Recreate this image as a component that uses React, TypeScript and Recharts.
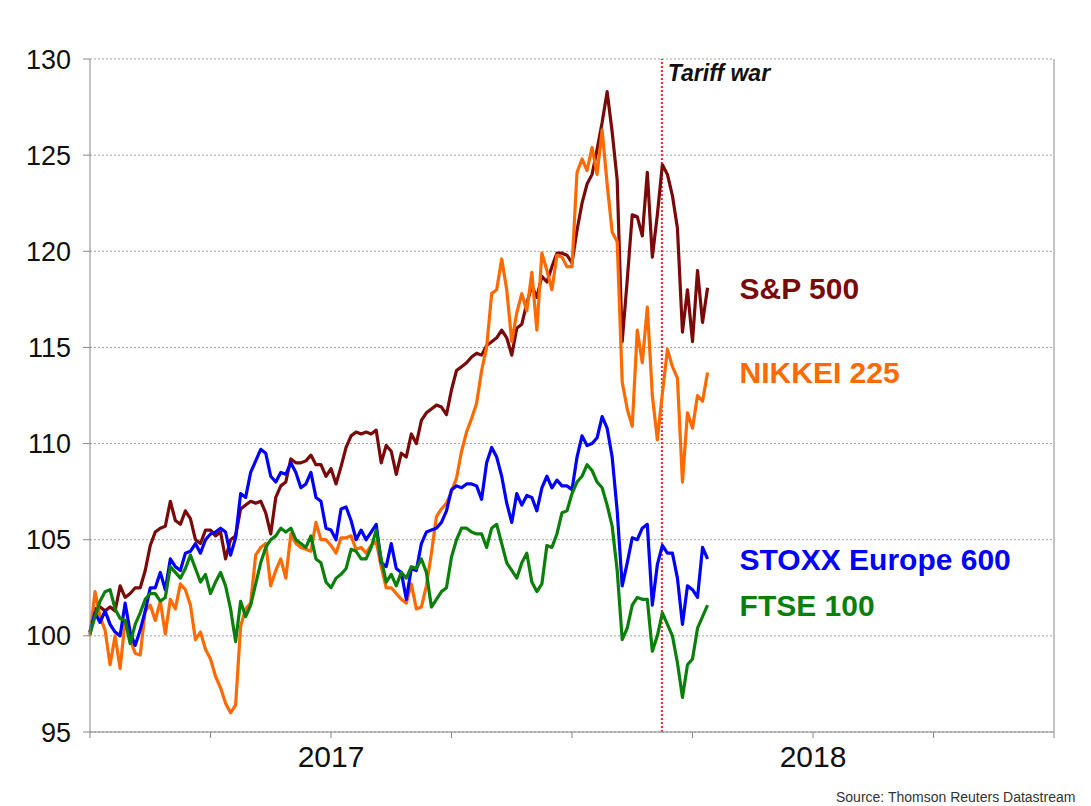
import { LineChart, Line, XAxis, YAxis, CartesianGrid, ReferenceLine, LabelList } from 'recharts';

// Rebased index levels (start = 100), roughly one point every few trading days.
const spx = [
  100.2, 101.4, 101.5, 101.3, 101.5, 101.3, 102.6, 102.0, 102.2, 102.5,
  102.5, 103.4, 104.7, 105.4, 105.6, 105.7, 107.0, 106.0, 105.8, 106.5,
  106.1, 105.0, 104.8, 105.5, 105.5, 105.2, 105.4, 104.0, 105.0, 105.2,
  106.6, 106.8, 107.0, 106.9, 107.0, 106.4, 105.3, 107.2, 107.8, 108.0,
  109.2, 109.0, 109.0, 109.1, 109.4, 108.9, 108.9, 108.3, 108.7, 107.9,
  108.8, 109.8, 110.4, 110.6, 110.5, 110.6, 110.5, 110.7, 109.0, 109.9,
  109.6, 108.4, 109.5, 109.3, 110.5, 110.0, 111.2, 111.6, 111.8, 112.0,
  111.9, 111.5, 112.8, 113.8, 114.0, 114.2, 114.5, 114.7, 114.6, 115.1,
  115.3, 115.5, 115.9, 115.5, 114.6, 116.0, 116.2, 117.3, 118.2, 117.6,
  118.7, 118.4, 119.2, 119.9, 119.9, 119.8, 119.4, 121.1, 122.5, 123.5,
  124.0, 125.3, 126.7, 128.3, 126.2, 123.7, 115.3, 118.5, 121.9, 121.8,
  120.8, 124.1, 119.7, 121.9, 124.5, 124.0, 122.9, 121.2, 115.8, 118.0,
  115.3, 119.0, 116.3, 118.1,
];

const nikkei = [
  100.0, 102.3, 101.0, 100.3, 98.5, 100.0, 98.3, 100.8, 99.8, 99.1,
  99.0, 101.3, 101.6, 100.8, 101.8, 100.1, 101.9, 101.4, 102.7, 102.4,
  101.6, 99.8, 100.2, 99.3, 98.8, 97.9, 97.3, 96.5, 96.0, 96.4,
  100.5, 101.4, 101.7, 104.2, 104.6, 104.8, 102.6, 103.4, 104.0, 103.0,
  105.3, 104.8, 104.6, 104.5, 104.4, 105.9, 105.0, 105.0, 104.7, 104.3,
  105.1, 105.1, 105.2, 104.5, 104.6, 104.3, 104.7, 104.9, 103.6, 102.5,
  102.5, 102.2, 101.9, 101.7, 102.7, 101.4, 101.5, 102.6, 104.3, 106.2,
  106.6, 106.9, 107.5, 108.2, 109.6, 110.6, 111.3, 112.1, 113.8, 115.0,
  117.8, 118.0, 119.6, 118.0, 115.3, 116.8, 117.8, 116.9, 118.9, 115.9,
  119.9, 119.0, 118.0, 119.8, 119.7, 119.2, 119.2, 124.1, 124.8, 124.2,
  125.4, 124.0, 126.3, 123.5, 121.0, 120.5, 113.2, 111.8, 110.9, 115.9,
  114.2, 117.1, 112.5, 110.2, 112.6, 114.9, 114.0, 113.4, 108.0, 111.6,
  110.8, 112.5, 112.2, 113.7,
];

const stoxx = [
  100.2, 101.2, 100.7, 101.3, 100.6, 100.2, 100.0, 101.7, 100.2, 99.5,
  100.3, 101.3, 102.5, 102.5, 103.3, 102.4, 104.0, 103.6, 103.4, 104.3,
  104.4, 104.8, 104.3, 105.0, 105.3, 105.4, 105.6, 105.4, 104.2, 105.1,
  107.4, 107.2, 108.5, 109.1, 109.7, 109.5, 108.3, 108.0, 108.5, 108.4,
  109.0, 108.5, 107.7, 107.9, 108.5, 107.2, 107.0, 105.6, 105.5, 105.0,
  106.6, 106.7, 106.0, 105.0, 105.5, 105.0, 105.4, 105.8, 103.8, 103.6,
  104.8, 103.5, 103.3, 101.9, 103.5, 103.4, 104.8, 105.4, 105.5, 105.6,
  105.9, 106.5, 107.6, 107.8, 107.7, 107.9, 107.9, 107.8, 107.1, 109.0,
  109.8, 109.3, 108.3, 106.9, 105.9, 107.4, 106.8, 107.3, 107.2, 106.5,
  107.7, 108.3, 107.7, 108.1, 107.8, 107.8, 107.6, 109.3, 110.4, 109.9,
  110.0, 110.3, 111.4, 110.8, 109.3, 106.5, 102.6, 103.8, 105.1, 105.0,
  105.6, 105.8, 101.6, 103.7, 104.7, 104.3, 104.3, 103.0, 100.6, 102.6,
  102.4, 102.0, 104.6, 104.0,
];

const ftse = [
  100.1, 101.0, 101.8, 102.3, 102.4, 101.4, 100.9, 100.8, 99.6, 100.6,
  101.2, 101.9, 102.2, 102.2, 101.8, 102.0, 103.6, 103.3, 103.0, 103.5,
  104.2, 103.5, 102.8, 103.2, 102.2, 102.8, 103.3, 102.6, 101.4, 99.7,
  101.8, 101.0, 101.6, 102.7, 103.8, 104.6, 105.0, 105.2, 105.6, 105.4,
  105.6, 105.0, 104.8, 104.6, 105.2, 104.0, 103.8, 102.8, 102.5, 103.0,
  103.2, 103.5, 104.5, 104.4, 104.0, 104.0, 104.6, 105.5, 104.0, 102.8,
  103.2, 102.6, 103.3, 103.0, 103.6, 103.5, 104.0, 103.3, 101.5, 101.9,
  102.3, 102.5, 104.1, 105.0, 105.6, 105.6, 105.4, 105.3, 105.3, 104.6,
  105.6, 105.8, 104.8, 103.8, 103.4, 103.0, 103.8, 104.3, 102.8, 102.3,
  102.7, 104.7, 104.6, 105.3, 106.4, 106.5, 107.4, 108.0, 108.3, 108.9,
  108.6, 108.0, 107.7, 106.8, 105.7, 103.4, 99.8, 100.4, 101.6, 102.0,
  101.9, 101.9, 99.2, 100.0, 101.2, 100.6, 100.0, 98.6, 96.8, 98.5,
  98.8, 100.4, 101.0, 101.6,
];

const xTicks = [0, 24, 48, 72, 96, 120, 144, 168, 192];
const yearLabels: Record<number, string> = { 48: '2017', 144: '2018' };
const yTicks = [95, 100, 105, 110, 115, 120, 125, 130];
const tariffWarAt = 113.9;

const series = [
  { key: 'spx', name: 'S&P 500', color: '#7a0a0a' },
  { key: 'nikkei', name: 'NIKKEI 225', color: '#ff6a00' },
  { key: 'stoxx', name: 'STOXX Europe 600', color: '#0000ff' },
  { key: 'ftse', name: 'FTSE 100', color: '#0a800a' },
];

const data = spx.map((v, i) => ({
  t: i,
  spx: v,
  nikkei: nikkei[i],
  stoxx: stoxx[i],
  ftse: ftse[i],
}));

const FONT = 'Arial, "Liberation Sans", sans-serif';

function YearTick(props: any) {
  const { x, y, payload } = props;
  const label = yearLabels[payload.value];
  if (!label) return <g />;
  return (
    <text x={x} y={y + 27} textAnchor="middle" fontSize={30} fontFamily={FONT} fill="#111">
      {label}
    </text>
  );
}

const endLabel = (name: string, color: string) => (props: any) => {
  const { x, y, index } = props;
  if (index !== spx.length - 1) return null;
  return (
    <text
      x={Number(x) + 32}
      y={Number(y)}
      dy="0.36em"
      fill={color}
      fontSize={30}
      fontWeight="bold"
      fontFamily={FONT}
    >
      {name}
    </text>
  );
};

export default function App() {
  return (
    <div style={{ position: 'relative', width: 1091, height: 806, background: '#fff', fontFamily: FONT }}>
      <style>{'body { margin: 0; }'}</style>
      <LineChart
        width={1091}
        height={806}
        data={data}
        margin={{ top: 59, right: 37, bottom: 34, left: 0 }}
      >
        <CartesianGrid vertical={false} stroke="#a0a0a0" strokeDasharray="2 2" />
        <XAxis
          dataKey="t"
          type="number"
          domain={[0, 192]}
          ticks={xTicks}
          interval={0}
          height={40}
          tickSize={6}
          stroke="#888"
          tick={<YearTick />}
        />
        <YAxis
          domain={[95, 130]}
          ticks={yTicks}
          interval={0}
          width={90}
          tickSize={7}
          tickMargin={12}
          stroke="#888"
          tick={{ fill: '#111', fontSize: 27, fontFamily: FONT }}
        />
        <ReferenceLine x={192} stroke="#888" />
        <ReferenceLine
          x={tariffWarAt}
          stroke="#ff2020"
          strokeWidth={2}
          strokeDasharray="2 2"
          label={{
            value: 'Tariff war',
            position: 'insideTopLeft',
            offset: 6,
            fill: '#111',
            fontSize: 23,
            fontWeight: 'bold',
            fontStyle: 'italic',
            fontFamily: FONT,
          }}
        />
        {series.map((s) => (
          <Line
            key={s.key}
            dataKey={s.key}
            stroke={s.color}
            strokeWidth={3.2}
            dot={false}
            activeDot={false}
            strokeLinejoin="round"
            isAnimationActive={false}
          >
            <LabelList dataKey={s.key} content={endLabel(s.name, s.color)} />
          </Line>
        ))}
      </LineChart>
      <div
        style={{
          position: 'absolute',
          left: 836,
          top: 789,
          fontSize: 14,
          color: '#333',
          whiteSpace: 'nowrap',
        }}
      >
        Source: Thomson Reuters Datastream
      </div>
    </div>
  );
}
